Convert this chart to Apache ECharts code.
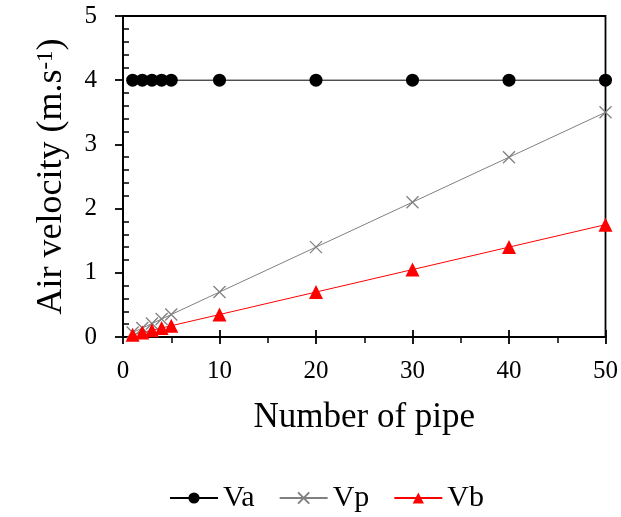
<!DOCTYPE html>
<html><head><meta charset="utf-8">
<script src="https://cdn.jsdelivr.net/npm/echarts@6/dist/echarts.min.js"></script>
<style>html,body{margin:0;padding:0;background:#fff}#c{width:621px;height:517px}</style>
</head><body><div id="c"></div>
<script>
var pipes = [1, 2, 3, 4, 5, 10, 20, 30, 40, 50];
var Va = [4, 4, 4, 4, 4, 4, 4, 4, 4, 4];
var Vp = [0.07, 0.14, 0.21, 0.28, 0.35, 0.7, 1.4, 2.1, 2.8, 3.5];
var Vb = [0.035, 0.07, 0.105, 0.14, 0.175, 0.35, 0.7, 1.05, 1.4, 1.75];
function pts(ys){return pipes.map(function(x,i){return [x, ys[i]];});}
var FONT = 'Liberation Serif';
var chart = echarts.init(document.getElementById('c'));
chart.setOption({
  animation:false,
  textStyle:{fontFamily:FONT,color:'#000'},
  grid:{left:123,right:15,top:16,bottom:180,show:true,borderColor:'#000',borderWidth:1.8},
  legend:{top:478,left:164,itemWidth:48,itemHeight:14,itemGap:24,
    textStyle:{fontFamily:FONT,fontSize:30,color:'#000'},
    data:['Va','Vp','Vb']},
  xAxis:[{type:'value',min:0,max:50,interval:10,
    name:'Number of pipe',nameLocation:'middle',nameGap:63,
    nameTextStyle:{fontFamily:FONT,fontSize:35,color:'#000'},
    axisLine:{lineStyle:{color:'#000',width:1.8}},
    axisTick:{length:7,lineStyle:{color:'#000',width:1.8}},
    minorTick:{show:true,splitNumber:2,length:6,lineStyle:{color:'#000',width:1.5}},
    axisLabel:{fontFamily:FONT,fontSize:25,color:'#000',margin:22},
    splitLine:{show:false}},
   {type:'value',min:0,max:50,interval:10,position:'bottom',
    axisLine:{show:false},axisLabel:{show:false},
    axisTick:{inside:true,length:7,lineStyle:{color:'#000',width:1.8}},
    splitLine:{show:false}}],
  yAxis:[{type:'value',min:0,max:5,interval:1,
    name:'{n|Air velocity (m.s}{s|-1}{n|)}',nameLocation:'middle',nameGap:53,nameRotate:90,
    nameTextStyle:{rich:{n:{fontFamily:FONT,fontSize:36,color:'#000'},
                         s:{fontFamily:FONT,fontSize:23,color:'#000',verticalAlign:'top',lineHeight:28}}},
    axisLine:{lineStyle:{color:'#000',width:1.8}},
    axisTick:{length:8,lineStyle:{color:'#000',width:1.8}},
    minorTick:{show:true,splitNumber:5,length:-6,lineStyle:{color:'#000',width:1.5}},
    axisLabel:{fontFamily:FONT,fontSize:25,color:'#000',margin:26},
    splitLine:{show:false}}],
  series:[
    {name:'Va',type:'line',data:pts(Va),symbol:'circle',symbolSize:13,
     lineStyle:{color:'#000',width:1},itemStyle:{color:'#000'}},
    {name:'Vp',type:'line',data:pts(Vp),
     symbol:'path://M0,0L10,10M10,0L0,10',symbolSize:12,
     lineStyle:{color:'#808080',width:1},
     itemStyle:{color:'#808080',borderColor:'#808080',borderWidth:1.3}},
    {name:'Vb',type:'line',data:pts(Vb),symbol:'triangle',symbolSize:14,
     lineStyle:{color:'#ff0000',width:1},itemStyle:{color:'#ff0000'}}
  ]
});
</script></body></html>
